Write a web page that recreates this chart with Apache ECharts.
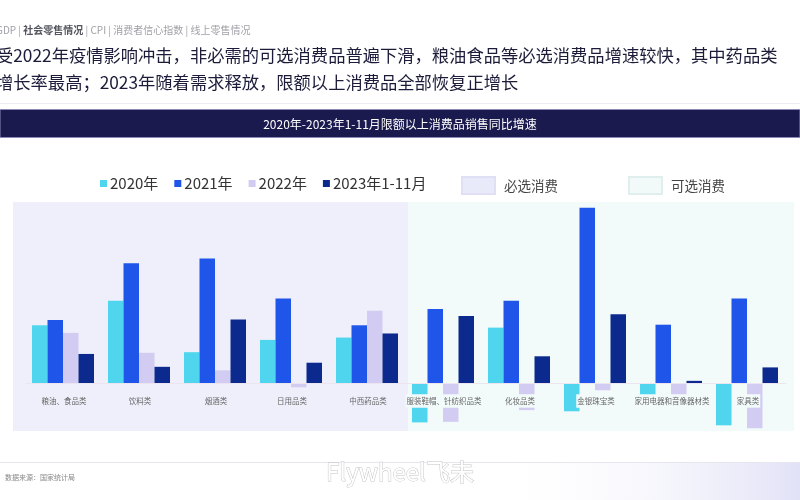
<!DOCTYPE html>
<html>
<head>
<meta charset="utf-8">
<script src="https://cdn.jsdelivr.net/npm/echarts@6/dist/echarts.min.js"></script>
<style>
html,body{margin:0;padding:0;background:#fff;}
#c{width:800px;height:500px;}
</style>
</head>
<body>
<div id="c"></div>
<script>
var categories = ['粮油、食品类','饮料类','烟酒类','日用品类','中西药品类','服装鞋帽、针纺织品类','化妆品类','金银珠宝类','家用电器和音像器材类','家具类'];
var seriesNames = ['2020年','2021年','2022年','2023年1-11月'];
var v2020 = [9.9, 14.1, 5.3, 7.4, 7.8, -6.7, 9.5, -4.8, -4.0, -7.2];
var v2021 = [10.8, 20.5, 21.3, 14.5, 9.9, 12.7, 14.1, 30.0, 10.0, 14.5];
var v2022 = [8.6, 5.2, 2.2, -0.7, 12.4, -6.6, -4.6, -1.2, -3.9, -7.7];
var v2023 = [5.0, 2.8, 10.9, 3.5, 8.5, 11.5, 4.6, 11.8, 0.4, 2.7];
var groupNames = ['必选消费','可选消费'];

var colors = ['#4fd5ee','#1f55e8','#d2ccf2','#0c2a8e'];
var bgLeft = '#eeeffa', bgRight = '#f2fafa';
var FONT = '"Noto Sans CJK SC","Noto Sans",sans-serif';

var yMin = -8, yMax = 32, gridTop = 196, gridBottom = 70;
var gridH = 500 - gridTop - gridBottom;
var zeroOffset = -(0 - yMin) / (yMax - yMin) * gridH;

var chart = echarts.init(document.getElementById('c'));
var valueSets = [v2020, v2021, v2022, v2023];
var series = valueSets.map(function(d, i){
  return {
    name: seriesNames[i], type: 'bar', data: d,
    barWidth: 15.5, barGap: '0%',
    itemStyle: {color: colors[i]}, z: 2
  };
});
series.push({name: groupNames[0], type: 'bar', data: [], itemStyle: {color: '#e8e9f9', borderColor:'#dfe0f3', borderWidth:1}});
series.push({name: groupNames[1], type: 'bar', data: [], itemStyle: {color: '#f1f9f9', borderColor:'#e1eeee', borderWidth:1}});

chart.setOption({
  animation: false,
  backgroundColor: '#ffffff',
  textStyle: {fontFamily: FONT},
  grid: {left: 26, right: 14, top: gridTop, bottom: gridBottom},
  legend: [{
    data: seriesNames, left: 95, top: 171, itemWidth: 7, itemHeight: 7, itemGap: 16,
    icon: 'rect', textStyle: {fontSize: 15, color: '#333', fontFamily: FONT, padding:[0,0,0,-2]}
  },{
    data: groupNames, left: 456, top: 171, itemWidth: 33, itemHeight: 17, itemGap: 70,
    icon: 'rect', textStyle: {fontSize: 13.5, color: '#444', fontFamily: FONT, padding:[0,0,0,4]}
  }],
  xAxis: {
    type: 'category', data: categories, z: 3, position: 'bottom', offset: zeroOffset,
    axisLine: {show: true, onZero: false, lineStyle: {color: '#ece4ee', width: 1}},
    axisTick: {show: false},
    axisLabel: {
      interval: 0, margin: 11,
      formatter: function(v, i){ return (i < 5 ? '{a|' : '{b|') + v + '}'; },
      rich: {
        a: {fontSize: 7.5, color: '#666', backgroundColor: bgLeft, padding: [3, 1], fontFamily: FONT},
        b: {fontSize: 7.5, color: '#666', backgroundColor: bgRight, padding: [3, 1], fontFamily: FONT}
      }
    }
  },
  yAxis: {type: 'value', min: yMin, max: yMax, show: true,
    axisLine: {show: false}, axisTick: {show: false}, axisLabel: {show: false}, splitLine: {show: false}},
  series: series,
  graphic: [
    {type: 'rect', z: -10, shape: {x: 13, y: 202, width: 395, height: 229}, style: {fill: bgLeft}},
    {type: 'rect', z: -10, shape: {x: 408, y: 202, width: 386, height: 229}, style: {fill: bgRight}},
    {type: 'text', z: 10, left: -4, top: 25, style: {
      text: 'GDP | {b|社会零售情况} | CPI | 消费者信心指数 | 线上零售情况',
      fontSize: 10, fill: '#a0a0a8', fontFamily: FONT,
      rich: {b: {fontSize: 10, fontWeight: 'bold', fill: '#55555f', fontFamily: FONT}}
    }},
    {type: 'text', z: 10, left: -4, top: 47, style: {
      text: '受2022年疫情影响冲击，非必需的可选消费品普遍下滑，粮油食品等必选消费品增速较快，其中药品类',
      fontSize: 17.3, fill: '#1c1c3a', fontFamily: FONT
    }},
    {type: 'text', z: 10, left: -4, top: 74, style: {
      text: '增长率最高；2023年随着需求释放，限额以上消费品全部恢复正增长',
      fontSize: 17.3, fill: '#1c1c3a', fontFamily: FONT
    }},
    {type: 'rect', z: 5, shape: {x: 0, y: 103, width: 800, height: 1}, style: {fill: '#ececf2'}},
    {type: 'rect', z: 5, shape: {x: 0, y: 109.5, width: 800, height: 28}, style: {fill: '#1b1a4f', stroke: '#8e8ab8', lineWidth: 1}},
    {type: 'text', z: 6, x: 400, y: 124, style: {
      text: '2020年-2023年1-11月限额以上消费品销售同比增速', fontSize: 12, fill: '#ffffff',
      textAlign: 'center', textVerticalAlign: 'middle', fontFamily: FONT
    }},
    {type: 'rect', z: -5, shape: {x: 0, y: 462, width: 800, height: 38}, style: {
      fill: new echarts.graphic.LinearGradient(0, 0, 1, 0, [
        {offset: 0, color: 'rgba(255,255,255,0)'}, {offset: 0.6, color: 'rgba(255,255,255,0)'}, {offset: 1, color: '#e2e2f7'}])
    }},
    {type: 'rect', z: -4, shape: {x: 0, y: 462, width: 800, height: 1}, style: {fill: '#e6e6ee'}},
    {type: 'text', z: 6, left: 5, top: 474, style: {text: '数据来源：国家统计局', fontSize: 7, fill: '#888', fontFamily: FONT}},
    {type: 'text', z: 6, x: 400, y: 472, style: {
      text: 'Flywheel飞未', fontSize: 24, fill: '#ffffff', stroke: '#c4c4c8', lineWidth: 1,
      textAlign: 'center', textVerticalAlign: 'middle', fontFamily: FONT
    }}
  ]
});
</script>
</body>
</html>
